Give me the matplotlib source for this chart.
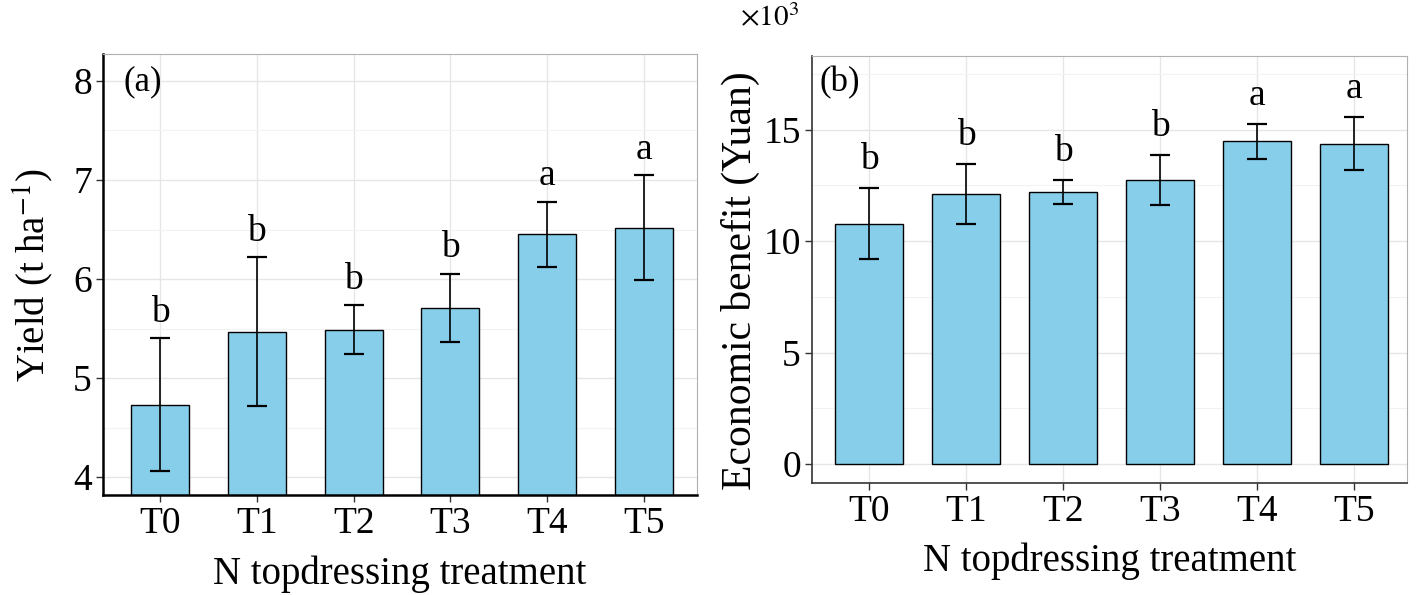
import numpy as np
import matplotlib
matplotlib.use("Agg")
import matplotlib.pyplot as plt

plt.rcParams['font.family'] = ['Liberation Serif', 'DejaVu Serif']
plt.rcParams['mathtext.fontset'] = 'stix'

treatments = ['T0', 'T1', 'T2', 'T3', 'T4', 'T5']

yield_mean = [4.73, 5.47, 5.49, 5.71, 6.45, 6.52]
yield_err = [0.67, 0.75, 0.245, 0.345, 0.33, 0.53]
yield_letters = ['b', 'b', 'b', 'b', 'a', 'a']

benefit_mean = [10.78, 12.11, 12.19, 12.75, 14.48, 14.37]
benefit_err = [1.6, 1.36, 0.54, 1.12, 0.78, 1.2]
benefit_letters = ['b', 'b', 'b', 'b', 'a', 'a']

fig = plt.figure(figsize=(14.17, 5.95), dpi=100)
ax1 = fig.add_axes([0.0727, 0.168, 0.4193, 0.741])
ax2 = fig.add_axes([0.573, 0.188, 0.420, 0.718])

x = np.arange(len(treatments))


def style_axes(ax, dark_spine, lw_spine):
    ax.set_axisbelow(True)
    ax.grid(True, which='major', color='#e6e6e6', lw=1.0)
    ax.grid(True, which='minor', axis='y', color='#f2f2f2', lw=0.8)
    for side in ['top', 'right']:
        ax.spines[side].set_color('#b0b0b0')
        ax.spines[side].set_linewidth(0.8)
    for side in ['left', 'bottom']:
        ax.spines[side].set_color(dark_spine)
        ax.spines[side].set_linewidth(lw_spine)
    ax.tick_params(axis='both', which='major', length=5, width=1,
                   color='#333333', labelsize=27, pad=3)
    ax.tick_params(axis='both', which='minor', length=0)
    ax.set_xticks(x)
    ax.set_xticklabels(treatments)
    ax.set_xlim(-0.59, 5.55)


# panel (a)
ax1.bar(x, yield_mean, width=0.6, color='#87CEEB', edgecolor='black', lw=1.0, zorder=2)
ax1.errorbar(x, yield_mean, yerr=yield_err, fmt='none', ecolor='black',
             elinewidth=1.2, capsize=7, capthick=1.6, zorder=3)
ax1.set_ylim(3.82, 8.27)
ax1.set_yticks([4, 5, 6, 7, 8])
ax1.set_yticks([4.5, 5.5, 6.5, 7.5], minor=True)
style_axes(ax1, 'black', 1.8)
for xi, m, e, lab in zip(x, yield_mean, yield_err, yield_letters):
    ax1.annotate(lab, (xi, m + e), xytext=(0, 6), textcoords='offset points',
                 ha='center', va='bottom', fontsize=27)
ax1.text(0.035, 0.975, '(a)', transform=ax1.transAxes, ha='left', va='top', fontsize=25)
ax1.set_xlabel('N topdressing treatment', fontsize=28, labelpad=11)
ax1.set_ylabel('Yield (t ha$^{-1}$)', fontsize=28, labelpad=12)

# panel (b)
ax2.bar(x, benefit_mean, width=0.7, color='#87CEEB', edgecolor='black', lw=1.0, zorder=2)
ax2.errorbar(x, benefit_mean, yerr=benefit_err, fmt='none', ecolor='black',
             elinewidth=1.2, capsize=7, capthick=1.6, zorder=3)
ax2.set_ylim(-0.85, 18.3)
ax2.set_yticks([0, 5, 10, 15])
ax2.set_yticks([2.5, 7.5, 12.5, 17.5], minor=True)
style_axes(ax2, '#333333', 1.2)
for xi, m, e, lab in zip(x, benefit_mean, benefit_err, benefit_letters):
    ax2.annotate(lab, (xi, m + e), xytext=(0, 8), textcoords='offset points',
                 ha='center', va='bottom', fontsize=27)
ax2.text(0.012, 0.975, '(b)', transform=ax2.transAxes, ha='left', va='top', fontsize=25)
ax2.set_xlabel('N topdressing treatment', fontsize=28, labelpad=10)
ax2.set_ylabel('Economic benefit (Yuan)', fontsize=30)
ax2.yaxis.set_label_coords(-0.088, 0.475)
fig.text(0.522, 0.97, r'$\times 10^{3}$', fontsize=21, ha='left', va='center')

fig.savefig('out.png', dpi=100)
